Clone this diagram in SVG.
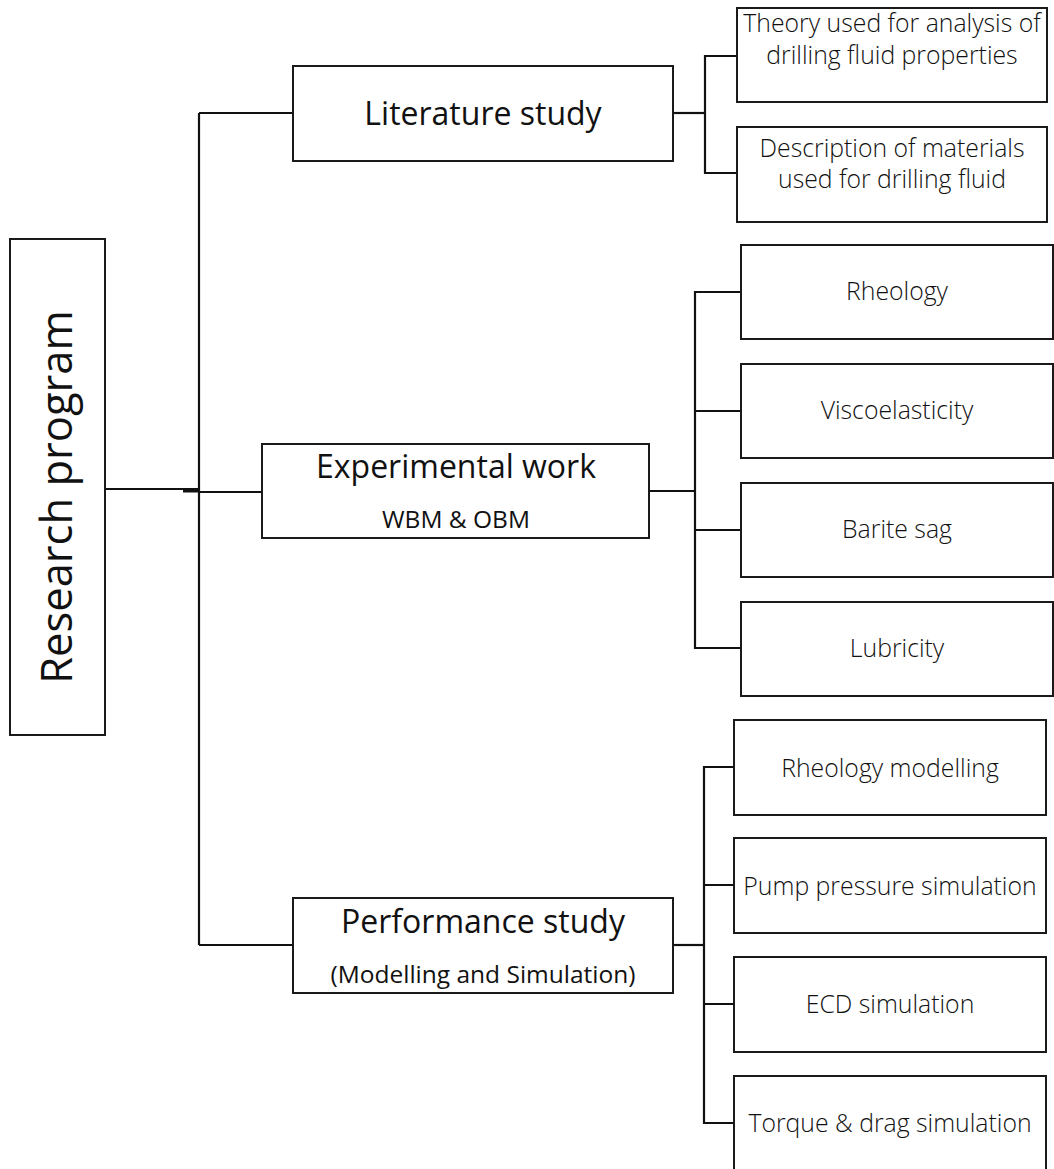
<svg xmlns="http://www.w3.org/2000/svg" width="1054" height="1169" viewBox="0 0 1054 1169">
<style>
.box{fill:#fff;stroke:#1a1a1a;stroke-width:2}
.ln{stroke:#111;stroke-width:2.2;fill:none}
.t{font-family:"Open Sans","Noto Sans","Liberation Sans",sans-serif;fill:#111;text-anchor:middle}
.big{font-size:32px}
.sub{font-size:24.5px}
.child{font-size:24.8px;font-weight:300}
</style>
<rect width="1054" height="1169" fill="#fff"/>
<g id="connectors">
  <path class="ln" d="M105 489 H199"/>
  <path d="M183 491 H199" stroke="#111" stroke-width="3"/>
  <path class="ln" d="M199 113 V945"/>
  <path class="ln" d="M199 113 H293"/>
  <path class="ln" d="M199 492 H262"/>
  <path class="ln" d="M199 945 H293"/>
  <path class="ln" d="M673 113 H705"/>
  <path class="ln" d="M737 56 H705 V173 H737"/>
  <path class="ln" d="M649 491 H695"/>
  <path class="ln" d="M741 292 H695 V648 H741 M695 411 H741 M695 530 H741"/>
  <path class="ln" d="M673 945 H704"/>
  <path class="ln" d="M734 767 H704 V1123 H734 M704 885 H734 M704 1004 H734"/>
</g>
<g id="research-program">
  <rect class="box" x="10" y="239" width="95" height="496"/>
  <text class="t" style="font-size:43.5px" transform="translate(72 497) rotate(-90)">Research program</text>
</g>
<g id="literature-study">
  <rect class="box" x="293" y="66" width="380" height="95"/>
  <text class="t big" x="483" y="125">Literature study</text>
</g>
<g id="theory">
  <rect class="box" x="737" y="8" width="310" height="94"/>
  <text class="t child" x="892" y="32">Theory used for analysis of</text>
  <text class="t child" x="892" y="64">drilling fluid properties</text>
</g>
<g id="description">
  <rect class="box" x="737" y="127" width="310" height="95"/>
  <text class="t child" x="892" y="157">Description of materials</text>
  <text class="t child" x="892" y="188">used for drilling fluid</text>
</g>
<g id="experimental-work">
  <rect class="box" x="262" y="444" width="387" height="94"/>
  <text class="t big" x="456" y="478">Experimental work</text>
  <text class="t sub" x="456" y="528">WBM &amp; OBM</text>
</g>
<g id="rheology">
  <rect class="box" x="741" y="245" width="312" height="94"/>
  <text class="t child" x="897" y="300">Rheology</text>
</g>
<g id="viscoelasticity">
  <rect class="box" x="741" y="364" width="312" height="94"/>
  <text class="t child" x="897" y="419">Viscoelasticity</text>
</g>
<g id="barite-sag">
  <rect class="box" x="741" y="483" width="312" height="94"/>
  <text class="t child" x="897" y="538">Barite sag</text>
</g>
<g id="lubricity">
  <rect class="box" x="741" y="602" width="312" height="94"/>
  <text class="t child" x="897" y="657">Lubricity</text>
</g>
<g id="performance-study">
  <rect class="box" x="293" y="898" width="380" height="95"/>
  <text class="t big" x="483" y="933">Performance study</text>
  <text class="t sub" x="483" y="983">(Modelling and Simulation)</text>
</g>
<g id="rheology-modelling">
  <rect class="box" x="734" y="720" width="312" height="95"/>
  <text class="t child" x="890" y="777">Rheology modelling</text>
</g>
<g id="pump-pressure">
  <rect class="box" x="734" y="838" width="312" height="95"/>
  <text class="t child" x="890" y="895">Pump pressure simulation</text>
</g>
<g id="ecd">
  <rect class="box" x="734" y="957" width="312" height="95"/>
  <text class="t child" x="890" y="1013">ECD simulation</text>
</g>
<g id="torque-drag">
  <rect class="box" x="734" y="1076" width="312" height="95"/>
  <text class="t child" x="890" y="1132">Torque &amp; drag simulation</text>
</g>
</svg>
